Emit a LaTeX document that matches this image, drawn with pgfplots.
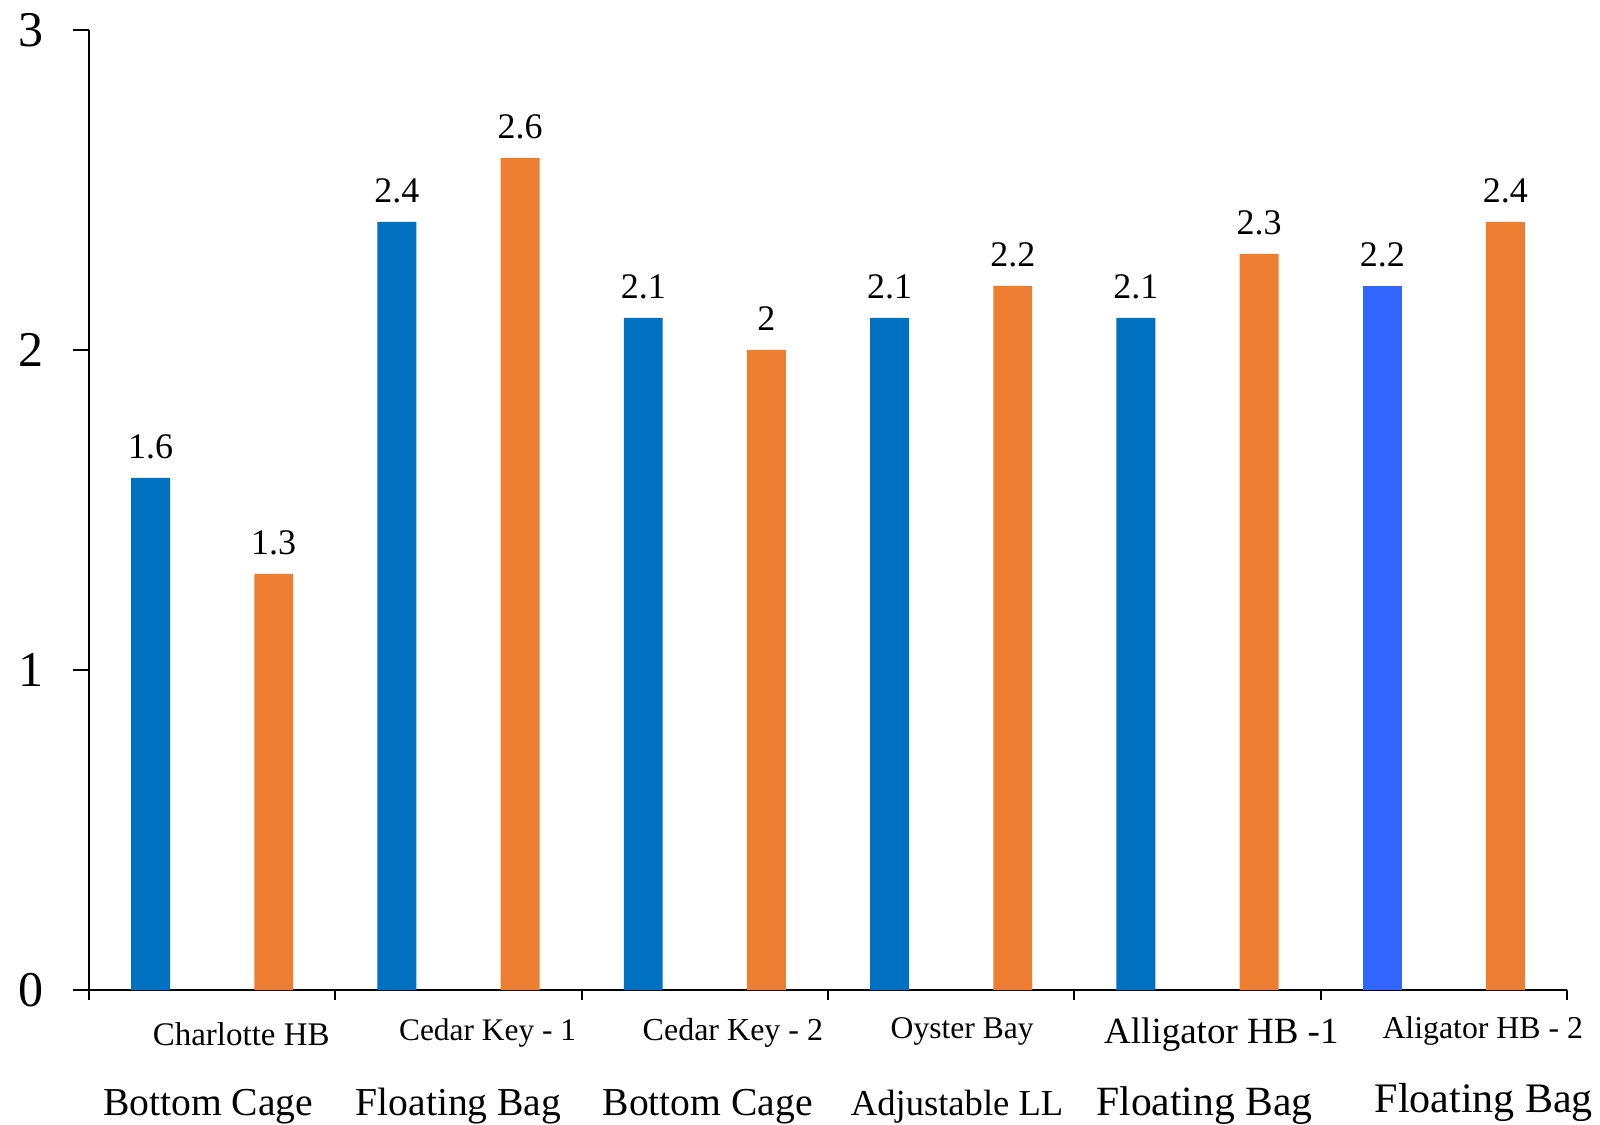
\documentclass[border=0pt]{standalone}
\usepackage{pgfplots}
\pgfplotsset{compat=1.18}
\usepackage{fontspec}
\setmainfont{Liberation Serif}

\definecolor{barblue}{RGB}{0,112,192}
\definecolor{barorange}{RGB}{237,125,49}
\definecolor{brightblue}{RGB}{51,102,255}

\begin{document}
\begin{tikzpicture}
\begin{axis}[
  at={(0,0)}, anchor=south west,
  scale only axis, width=739pt, height=480pt,
  xmin=-0.5, xmax=5.5, ymin=0, ymax=3,
  axis x line*=bottom, axis y line*=left,
  axis line style={-, line width=1pt, black},
  xtick={-0.5,0.5,...,5.5}, xticklabels={},
  ytick={0,1,2,3},
  tick align=outside,
  major tick length=8pt,
  xtick style={line width=1pt, black, /pgfplots/major tick length=5pt},
  ytick style={line width=1pt, black},
  /pgf/number format/assume math mode=true,
  yticklabel style={font=\fontsize{25}{30}\selectfont, xshift=-11pt},
  clip=false,
  every node near coord/.append style={font=\fontsize{18}{20}\selectfont, anchor=base, inner sep=0pt, yshift=9.5pt, black, /pgf/number format/assume math mode=true},
]
\coordinate (O) at (rel axis cs:0,0);

% first survey (blue) and second survey (orange) for each site
\addplot[ybar, bar width=0.158, bar shift=0pt, fill=barblue, draw=none, nodes near coords]
  coordinates {(-0.25,1.6) (0.75,2.4) (1.75,2.1) (2.75,2.1) (3.75,2.1)};
\addplot[ybar, bar width=0.158, bar shift=0pt, fill=brightblue, draw=none, nodes near coords]
  coordinates {(4.75,2.2)};
\addplot[ybar, bar width=0.158, bar shift=0pt, fill=barorange, draw=none, nodes near coords]
  coordinates {(0.25,1.3) (1.25,2.6) (2.25,2.0) (3.25,2.2) (4.25,2.3) (5.25,2.4)};

% site names
\node[anchor=base, yshift=-27.5pt, font=\fontsize{16.5}{18}\selectfont] at (axis cs:0.118,0) {Charlotte HB};
\node[anchor=base, yshift=-25pt, font=\fontsize{15.7}{18}\selectfont] at (axis cs:1.118,0) {Cedar Key - 1};
\node[anchor=base, yshift=-25pt, font=\fontsize{16}{18}\selectfont] at (axis cs:2.114,0) {Cedar Key - 2};
\node[anchor=base, yshift=-24pt, font=\fontsize{15.8}{18}\selectfont] at (axis cs:3.045,0) {Oyster Bay};
\node[anchor=base, yshift=-26.5pt, font=\fontsize{18.5}{20}\selectfont] at (axis cs:4.097,0) {Alligator HB -1};
\node[anchor=base, yshift=-24pt, font=\fontsize{15.9}{18}\selectfont] at (axis cs:5.158,0) {Aligator HB - 2};

% gear types
\node[anchor=base, yshift=-62.5pt, font=\fontsize{19.8}{22}\selectfont] at (axis cs:-0.016,0) {Bottom Cage};
\node[anchor=base, yshift=-62.5pt, font=\fontsize{19.8}{22}\selectfont] at (axis cs:1.0,0) {Floating Bag};
\node[anchor=base, yshift=-62.5pt, font=\fontsize{19.8}{22}\selectfont] at (axis cs:2.012,0) {Bottom Cage};
\node[anchor=base, yshift=-62.5pt, font=\fontsize{18.3}{22}\selectfont] at (axis cs:3.024,0) {Adjustable LL};
\node[anchor=base, yshift=-62.5pt, font=\fontsize{20.8}{22}\selectfont] at (axis cs:4.028,0) {Floating Bag};
\node[anchor=base, yshift=-61pt, font=\fontsize{21}{22}\selectfont] at (axis cs:5.162,0) {Floating Bag};
\end{axis}
\pgfresetboundingbox
\path (O) ++(-44.5pt,-67pt) rectangle ++(800pt,562pt);
\end{tikzpicture}
\end{document}
